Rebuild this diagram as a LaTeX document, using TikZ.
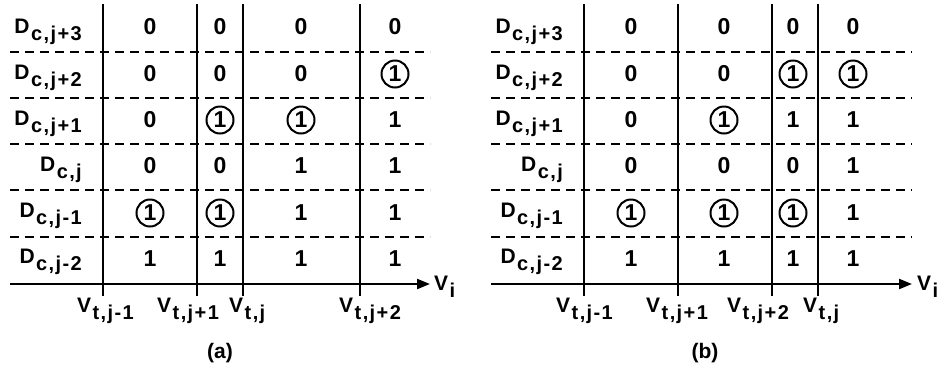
\documentclass[tikz,border=0pt]{standalone}
\usepackage{fontspec}
\setmainfont{Liberation Sans}[BoldFont={Liberation Sans Bold}]
\newfontfamily\bsans{Liberation Sans Bold}
\newfontfamily\bsanssub{Liberation Sans Bold}[LetterSpace=7]
\usetikzlibrary{arrows.meta}
\newcommand\lsub[1]{\kern1.5pt\raisebox{-7pt}{\bsanssub\fontsize{20}{20}\selectfont #1}}
\begin{document}
\begin{tikzpicture}[x=1pt,y=-1pt,
  font=\bsans\fontsize{21}{21}\selectfont,
  gridline/.style={line width=2.2pt},
  dashline/.style={line width=2.2pt, dash pattern=on 9pt off 6pt},
  axisline/.style={line width=2.2pt, -{Triangle[length=13pt,width=10pt]}},
  plain/.style={inner sep=0pt, font=\bsans\fontsize{23}{23}\selectfont},
  circ/.style={draw, circle, line width=2pt, minimum size=27pt, inner sep=0pt, font=\bsans\fontsize{23}{23}\selectfont},
  rowlab/.style={anchor=base east, inner sep=0pt},
  vlab/.style={anchor=base west, inner sep=0pt},
  caption/.style={anchor=base, inner sep=0pt, font=\bsans\fontsize{21}{21}\selectfont}]
\useasboundingbox[fill=white] (0,0) rectangle (941,373);

% ---------------- panel (a) ----------------
\foreach \y in {52,98,144,190,237}
  \draw[dashline] (10,\y) -- (430,\y);
\foreach \x in {103,197,243,360}
  \draw[gridline] (\x,4) -- (\x,296);
\draw[axisline] (10,284) -- (430,284);
\node[vlab] (a-vi) at (434,290) {V\lsub{i}};

\foreach \t/\y [count=\r] in {j+3/33,j+2/79,j+1/125,j/171,j-1/217,j-2/263}
  \node[rowlab] (a-d\r) at (82,\y) {D\lsub{c,\t}};

\foreach \vals/\y [count=\r] in {
  {plain/0,plain/0,plain/0,plain/0}/27,
  {plain/0,plain/0,plain/0,circ/1}/74,
  {plain/0,circ/1,circ/1,plain/1}/120,
  {plain/0,plain/0,plain/1,plain/1}/166,
  {circ/1,circ/1,plain/1,plain/1}/213,
  {plain/1,plain/1,plain/1,plain/1}/259}{
  \foreach \s/\t [count=\c] in \vals {
    \pgfmathsetmacro\x{{150,220,301,395}[\c-1]}
    \node[\s] (a-\r-\c) at (\x,\y) {\t};
  }
}

\node[vlab] (a-t1) at (77,312) {V\lsub{t,j-1}};
\node[vlab] (a-t2) at (157,312) {V\lsub{t,j+1}};
\node[vlab] (a-t3) at (229,312) {V\lsub{t,j}};
\node[vlab] (a-t4) at (339,312) {V\lsub{t,j+2}};
\node[caption] (a-cap) at (220,358) {(a)};

% ---------------- panel (b) ----------------
\foreach \y in {52,98,144,190,237}
  \draw[dashline] (491,\y) -- (912,\y);
\foreach \x in {584,678,772,818}
  \draw[gridline] (\x,4) -- (\x,296);
\draw[axisline] (491,284) -- (912,284);
\node[vlab] (b-vi) at (917,290) {V\lsub{i}};

\foreach \t/\y [count=\r] in {j+3/33,j+2/79,j+1/125,j/171,j-1/217,j-2/263}
  \node[rowlab] (b-d\r) at (563,\y) {D\lsub{c,\t}};

\foreach \vals/\y [count=\r] in {
  {plain/0,plain/0,plain/0,plain/0}/27,
  {plain/0,plain/0,circ/1,circ/1}/74,
  {plain/0,circ/1,plain/1,plain/1}/120,
  {plain/0,plain/0,plain/0,plain/1}/166,
  {circ/1,circ/1,circ/1,plain/1}/213,
  {plain/1,plain/1,plain/1,plain/1}/259}{
  \foreach \s/\t [count=\c] in \vals {
    \pgfmathsetmacro\x{{631,724,793,853}[\c-1]}
    \node[\s] (b-\r-\c) at (\x,\y) {\t};
  }
}

\node[vlab] (b-t1) at (556,312) {V\lsub{t,j-1}};
\node[vlab] (b-t2) at (646,312) {V\lsub{t,j+1}};
\node[vlab] (b-t3) at (727,312) {V\lsub{t,j+2}};
\node[vlab] (b-t4) at (803,312) {V\lsub{t,j}};
\node[caption] (b-cap) at (705,358) {(b)};
\end{tikzpicture}
\end{document}
